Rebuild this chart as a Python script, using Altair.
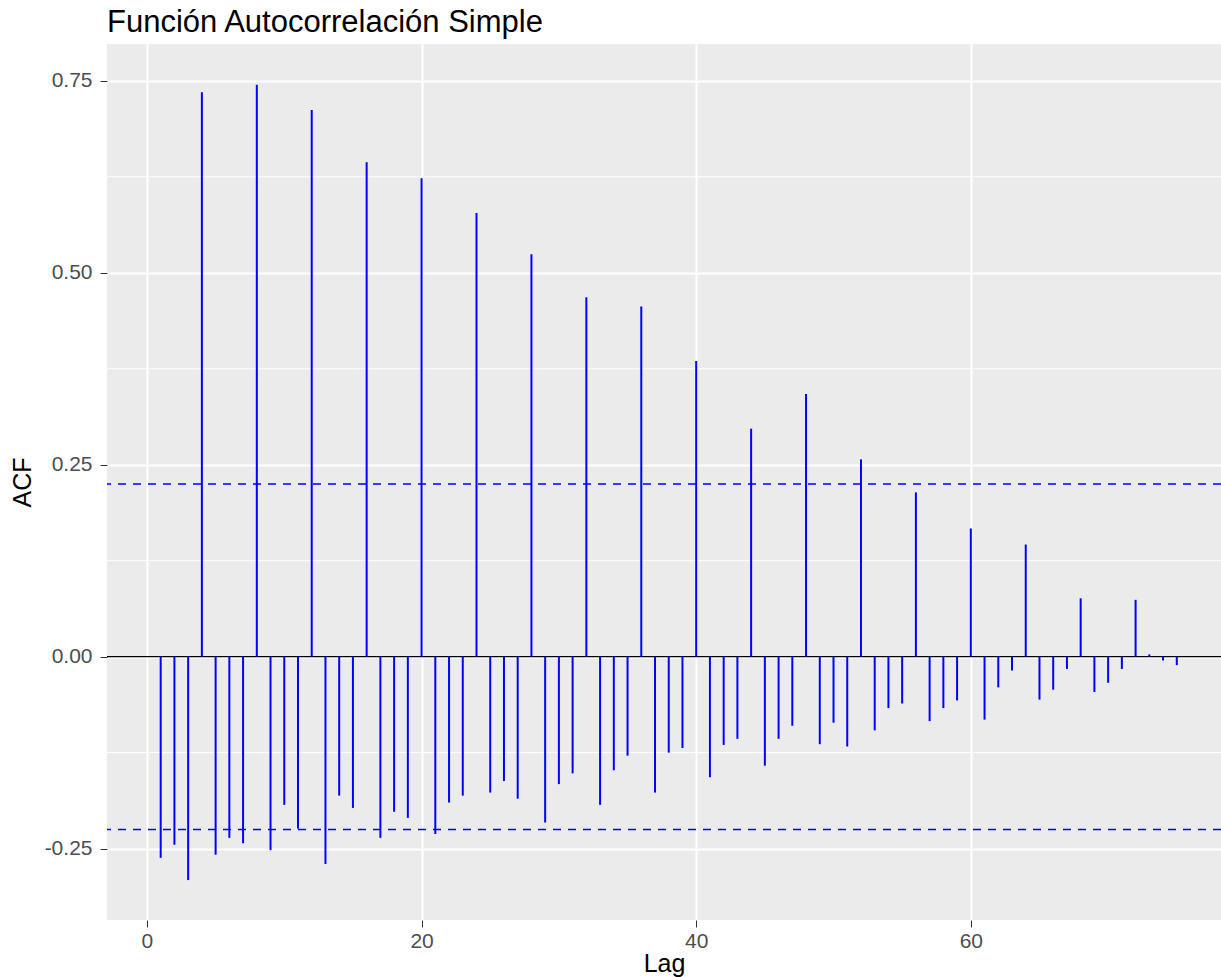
import altair as alt
import pandas as pd

LAGS = list(range(1, 76))
ACF = [
    -0.262, -0.245, -0.291, 0.735, -0.258, -0.236, -0.243, 0.745, -0.252, -0.193,
    -0.224, 0.712, -0.270, -0.181, -0.197, 0.644, -0.236, -0.202, -0.210, 0.623,
    -0.231, -0.190, -0.181, 0.578, -0.177, -0.162, -0.185, 0.524, -0.216, -0.166,
    -0.152, 0.468, -0.193, -0.148, -0.129, 0.456, -0.177, -0.125, -0.119, 0.385,
    -0.157, -0.115, -0.107, 0.297, -0.142, -0.107, -0.090, 0.342, -0.114, -0.086,
    -0.117, 0.257, -0.096, -0.067, -0.061, 0.214, -0.084, -0.067, -0.057, 0.167,
    -0.082, -0.040, -0.018, 0.146, -0.056, -0.043, -0.016, 0.076, -0.046, -0.034,
    -0.016, 0.074, 0.003, -0.005, -0.011,
]
CI = [0.225, -0.225]
ZERO = [0.0]
Y_MAJOR = [-0.25, 0.0, 0.25, 0.5, 0.75]
Y_MINOR = [-0.125, 0.125, 0.375, 0.625]
X_MAJOR = [0, 20, 40, 60]

FONT = "Liberation Sans"
W, H = 1114, 876

xscale = alt.Scale(domain=[-2.91, 78.22], nice=False, zero=False)
yscale = alt.Scale(domain=[-0.343, 0.798], nice=False, zero=False)

yaxis = alt.Axis(
    values=Y_MAJOR,
    labelExpr="datum.value < 0 ? '-' + format(-datum.value, '.2f') : format(datum.value, '.2f')",
    title="ACF",
    grid=True,
    gridColor="white",
    gridWidth=2,
    domain=False,
    tickColor="#333333",
    tickSize=7,
    tickWidth=1,
    labelPadding=8,
    labelFontSize=21,
    labelColor="#4D4D4D",
    labelFont=FONT,
    titleFont=FONT,
    titleFontSize=25,
    titleFontWeight="normal",
    titleColor="black",
    titleAngle=-90,
    titleX=-85,
    titleY=H / 2,
    titleBaseline="middle",
    titleAlign="center",
)

xaxis = alt.Axis(
    values=X_MAJOR,
    title="Lag",
    grid=True,
    gridColor="white",
    gridWidth=2,
    domain=False,
    tickColor="#333333",
    tickSize=7,
    tickWidth=1,
    labelPadding=3,
    labelFontSize=21,
    labelColor="#4D4D4D",
    labelFont=FONT,
    titleFont=FONT,
    titleFontSize=25,
    titleFontWeight="normal",
    titleColor="black",
    titleBaseline="alphabetic",
    titleY=51,
)

df = pd.DataFrame({"lag": LAGS, "acf": ACF, "base": [0.0] * len(LAGS)})

minor = alt.Chart(pd.DataFrame({"v": Y_MINOR})).mark_rule(
    color="white", strokeWidth=1
).encode(y=alt.Y("v:Q", scale=yscale, axis=yaxis))

zero = alt.Chart(pd.DataFrame({"v": ZERO})).mark_rule(
    color="black", strokeWidth=1.3
).encode(y=alt.Y("v:Q", scale=yscale, axis=yaxis))

ci = alt.Chart(pd.DataFrame({"v": CI})).mark_rule(
    color="#0000FF", strokeWidth=1.5, strokeDash=[8, 7]
).encode(y=alt.Y("v:Q", scale=yscale, axis=yaxis))

stems = alt.Chart(df).mark_rule(color="#0000FF", strokeWidth=2).encode(
    x=alt.X("lag:Q", scale=xscale, axis=xaxis),
    y=alt.Y("acf:Q", scale=yscale, axis=yaxis),
    y2=alt.Y2("base:Q"),
)

chart = (
    alt.layer(minor, zero, ci, stems)
    .properties(
        width=W,
        height=H,
        autosize=alt.AutoSizeParams(type="none"),
        padding={"left": 107, "top": 44, "right": 0, "bottom": 57},
        background="white",
        title=alt.TitleParams(
            "Función Autocorrelación Simple",
            anchor="start",
            frame="group",
            font=FONT,
            fontSize=31,
            fontWeight="normal",
            color="black",
            offset=5,
        ),
    )
    .configure_view(fill="#EBEBEB", stroke=None)
)

chart.save("out.html", embed_options={"renderer": "svg", "actions": False})
